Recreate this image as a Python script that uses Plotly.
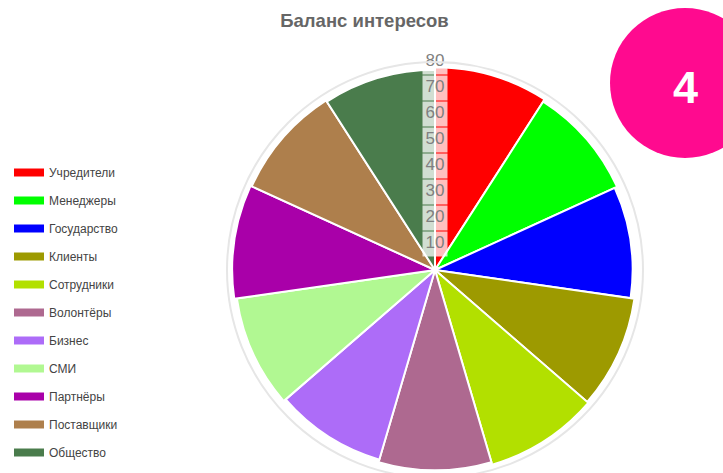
import plotly.graph_objects as go

categories = ["Учредители", "Менеджеры", "Государство", "Клиенты", "Сотрудники",
              "Волонтёры", "Бизнес", "СМИ", "Партнёры", "Поставщики", "Общество"]
values = [78, 77, 76, 77.5, 78, 77, 76, 77, 78, 77.5, 77]
colors = ["#ff0000", "#00ff00", "#0000ff", "#9d9a00", "#b2e000",
          "#ae6990", "#ad6cf8", "#b1f892", "#a900a9", "#ae7f4c", "#4a7c4c"]
tick_values = [10, 20, 30, 40, 50, 60, 70, 80]
tick_labels = ["10", "20", "30", "40", "50", "60", "70", "80"]

n = len(categories)
step = 360.0 / n

fig = go.Figure()
for i, (cat, val, col) in enumerate(zip(categories, values, colors)):
    fig.add_trace(go.Barpolar(
        r=[val], theta=[step * (i + 0.5)], width=[step],
        marker=dict(color=col, line=dict(color="white", width=2)),
        name=cat, legendgroup=cat, showlegend=False,
    ))
    fig.add_trace(go.Scatterpolar(
        r=[None], theta=[None], mode="lines",
        line=dict(color=col, width=8),
        name=cat, legendgroup=cat, showlegend=True,
    ))

# label boxes behind the radial tick labels
fig.add_trace(go.Scatterpolar(
    r=tick_values, theta=[0] * len(tick_values), mode="markers",
    marker=dict(symbol="square", size=25, color="rgba(255,255,255,0.75)", line=dict(width=0)),
    showlegend=False, hoverinfo="skip",
))
fig.add_trace(go.Scatterpolar(
    r=tick_values, theta=[0] * len(tick_values), mode="text",
    text=tick_labels, textposition="middle center",
    textfont=dict(family="Arial, Liberation Sans, sans-serif", size=17, color="#808080"),
    showlegend=False, hoverinfo="skip",
))

# the figure is a little taller than the 473px window; the overflow is hidden
W, H = 723, 482
cx, cy, R = 435, 270, 208
fig.update_layout(
    width=W, height=H,
    margin=dict(l=0, r=0, t=0, b=0, autoexpand=False),
    paper_bgcolor="white", plot_bgcolor="white",
    font=dict(family="Arial, Liberation Sans, sans-serif"),
    title=dict(text="<b>Баланс интересов</b>", x=364.5 / W, xanchor="center",
               y=1 - 21 / H, yanchor="middle",
               font=dict(size=18.5, color="#666666")),
    polar=dict(
        domain=dict(x=[(cx - R) / W, (cx + R) / W],
                    y=[1 - (cy + R) / H, 1 - (cy - R) / H]),
        bgcolor="white",
        radialaxis=dict(range=[0, 80], showticklabels=False, showgrid=False,
                        showline=False, ticks=""),
        angularaxis=dict(direction="clockwise", rotation=90, showticklabels=False,
                         showgrid=False, ticks="", showline=True,
                         linecolor="#e6e6e6", linewidth=2),
    ),
    legend=dict(x=9 / W, xanchor="left", y=1 - 158 / H, yanchor="top",
                font=dict(size=12, color="#444444"), tracegroupgap=9,
                bgcolor="rgba(0,0,0,0)"),
    shapes=[dict(type="circle", xref="paper", yref="paper",
                 x0=610 / W, x1=760 / W,
                 y0=1 - 158 / H, y1=1 - 8 / H,
                 fillcolor="#ff0a8f", line=dict(width=0), layer="above")],
    annotations=[dict(text="<b>4</b>", xref="paper", yref="paper",
                      x=685 / W, y=1 - 87 / H,
                      xanchor="center", yanchor="middle", showarrow=False,
                      font=dict(size=45, color="white", family="Arial, Liberation Sans, sans-serif"))],
)

fig.write_html(
    "out.html",
    config={"displayModeBar": False},
    post_script="document.body.style.margin='0';document.body.style.overflow='hidden';",
)
